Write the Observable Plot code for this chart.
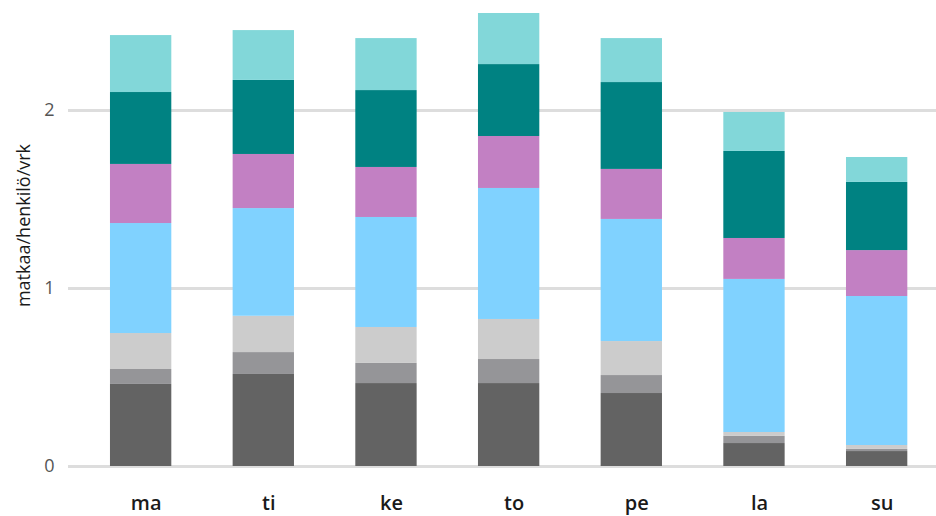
<!DOCTYPE html>
<html>
<head>
<meta charset="utf-8">
<script src="https://cdn.jsdelivr.net/npm/d3@7"></script>
<script src="https://cdn.jsdelivr.net/npm/@observablehq/plot@0.6"></script>
<style>
  html, body { margin: 0; padding: 0; background: #fff; }
  #chart { width: 936px; height: 516px; }
</style>
</head>
<body>
<div id="chart"></div>
<script>
// Categories (weekdays)
const days = ["ma", "ti", "ke", "to", "pe", "la", "su"];
// Series (stack order bottom -> top)
const series = ["työ", "työasia", "koulu", "vapaa-aika", "ostos", "asiointi", "muu"];
const colors = ["#636363", "#959598", "#cccccc", "#80d2ff", "#c280c3", "#008282", "#82d7d9"];
// Values per series, in the order of days
const tyo       = [0.461, 0.517, 0.466, 0.466, 0.410, 0.129, 0.084];
const tyoasia   = [0.084, 0.123, 0.113, 0.135, 0.101, 0.040, 0.012];
const koulu     = [0.202, 0.204, 0.202, 0.225, 0.191, 0.022, 0.022];
const vapaa     = [0.618, 0.605, 0.618, 0.736, 0.686, 0.860, 0.837];
const ostos     = [0.332, 0.304, 0.281, 0.292, 0.281, 0.230, 0.258];
const asiointi  = [0.404, 0.416, 0.432, 0.404, 0.488, 0.489, 0.383];
const muu       = [0.320, 0.280, 0.292, 0.287, 0.247, 0.219, 0.140];
const yTicks = [0, 1, 2];
const yLabel = "matkaa/henkilö/vrk";

const valueLists = [tyo, tyoasia, koulu, vapaa, ostos, asiointi, muu];
const data = [];
series.forEach((s, si) => {
  days.forEach((d, di) => data.push({day: d, series: s, value: valueLists[si][di]}));
});

const chart = Plot.plot({
  width: 936,
  height: 516,
  marginLeft: 68,
  marginRight: 0,
  marginTop: 0,
  marginBottom: 50,
  style: {fontFamily: "'Open Sans', sans-serif", background: "#fff"},
  x: {domain: days, padding: 0.5, paddingOuter: 0.288, align: 0.594, round: false},
  y: {domain: [0, 466 / 178]},
  color: {domain: series, range: colors},
  marks: [
    Plot.ruleY(yTicks, {stroke: "#dddddd", strokeWidth: 3}),
    Plot.barY(data, {x: "day", y: "value", fill: "series", order: series}),
    Plot.axisX({tickSize: 0, tickPadding: 29, dx: 5, fontSize: 20, fontWeight: 600, color: "#1a1a1a", label: null}),
    Plot.axisY({ticks: yTicks, tickFormat: d3.format("d"), tickSize: 0, tickPadding: 14, fontSize: 18, color: "#555",
                label: yLabel, labelAnchor: "center", labelArrow: "none", labelOffset: 51})
  ]
});
d3.select(chart).selectAll("[aria-label='y-axis label']")
  .attr("font-size", 18).attr("fill", "#1a1a1a");
d3.select(chart).selectAll("[aria-label='y-axis label'] text").attr("dx", 8);
document.getElementById("chart").appendChild(chart);
</script>
</body>
</html>
